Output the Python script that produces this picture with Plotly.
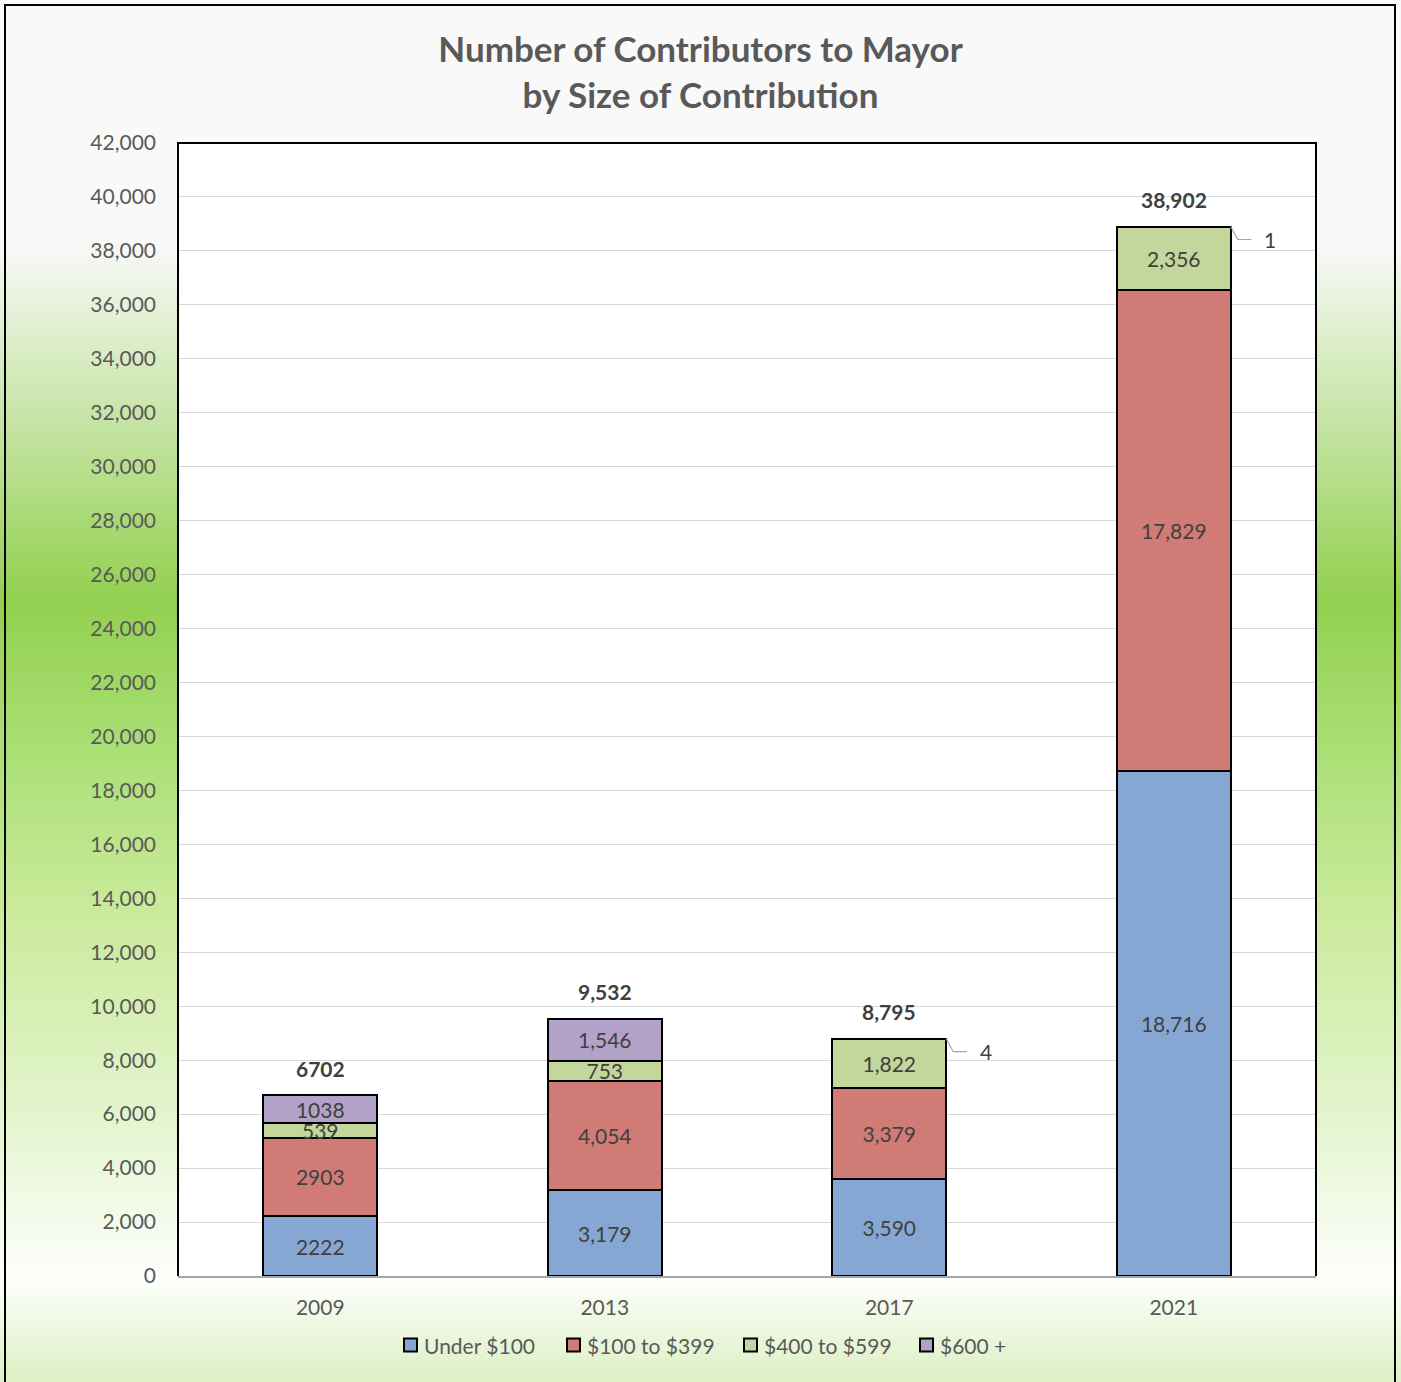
import base64
import plotly.graph_objects as go

# ---------------- data ----------------
years = ["2009", "2013", "2017", "2021"]
under_100 = [2222, 3179, 3590, 18716]
r100_399 = [2903, 4054, 3379, 17829]
r400_599 = [539, 753, 1822, 2356]
r600_plus = [1038, 1546, 4, 1]
totals = [6702, 9532, 8795, 38902]
use_comma = [False, True, True, True]
series_names = ["Under $100", "$100 to $399", "$400 to $599", "$600 +"]
series_colors = ["#86a7d3", "#d17b77", "#c3d69b", "#b2a2c8"]
y_max = 42000
y_step = 2000

# ---------------- layout geometry (pixels) ----------------
W, H = 1401, 1382
L, R, T, B = 178, 85, 143, 106
PW, PH = W - L - R, H - T - B


def px_x(p):
    return (p - L) / PW


def px_y(p):
    return (H - B - p) / PH


FONT = "Lato, 'Open Sans', sans-serif"
TXT = "#404040"
AX = "#595959"
FS = 21
BAR_W = 0.4
CALLOUT_MIN = 100
LEGEND_PX = [404, 567, 744, 920]   # left edges of legend swatches
LEGEND_Y = 1345


def fmt(v, comma):
    return f"{v:,}" if comma else str(v)


fig = go.Figure()
xs = list(range(len(years)))
all_series = [under_100, r100_399, r400_599, r600_plus]
for name, vals, col in zip(series_names, all_series, series_colors):
    texts = ["" if v < CALLOUT_MIN else fmt(v, c) for v, c in zip(vals, use_comma)]
    fig.add_trace(go.Bar(
        x=xs, y=vals, name=name, width=BAR_W, showlegend=False,
        marker=dict(color=col, line=dict(color="black", width=2)),
        text=texts, textposition="inside", insidetextanchor="middle",
        textangle=0, insidetextfont=dict(family=FONT, size=FS, color=TXT),
        hoverinfo="skip",
    ))

# totals
for i, t in enumerate(totals):
    fig.add_annotation(x=xs[i], y=t, text=f"<b>{fmt(t, use_comma[i])}</b>",
                       showarrow=False, yshift=27, yanchor="middle",
                       font=dict(family=FONT, size=FS, color=TXT))

# callouts for tiny top segments
for i, v in enumerate(r600_plus):
    if v < CALLOUT_MIN:
        t = totals[i]
        drop = 480
        fig.add_trace(go.Scatter(
            x=[xs[i] + BAR_W / 2, xs[i] + 0.225, xs[i] + 0.273],
            y=[t, t - drop, t - drop], mode="lines",
            line=dict(color="#a6a6a6", width=1.2), showlegend=False,
            hoverinfo="skip"))
        fig.add_annotation(x=xs[i] + 0.34, y=t - drop, text=fmt(v, use_comma[i]),
                           showarrow=False, yanchor="middle",
                           font=dict(family=FONT, size=FS, color=TXT))

# background gradient image
svg = (
    '<svg xmlns="http://www.w3.org/2000/svg" width="100" height="100" '
    'viewBox="0 0 1 1" preserveAspectRatio="none">'
    '<defs><linearGradient id="g" x1="0" y1="0" x2="0" y2="1">'
    '<stop offset="0" stop-color="#f9f9f9"/>'
    '<stop offset="0.175" stop-color="#f9f9f9"/>'
    '<stop offset="0.435" stop-color="#92d050"/>'
    '<stop offset="0.55" stop-color="#ace077"/>'
    '<stop offset="0.655" stop-color="#c9ea9a"/>'
    '<stop offset="0.8" stop-color="#e2f4cb"/>'
    '<stop offset="0.925" stop-color="#fdfefb"/>'
    '<stop offset="1" stop-color="#dcf0c3"/>'
    '</linearGradient></defs>'
    '<rect x="0" y="0" width="1" height="1" fill="url(#g)"/></svg>'
)
src = "data:image/svg+xml;base64," + base64.b64encode(svg.encode()).decode()
fig.add_layout_image(dict(source=src, xref="paper", yref="paper",
                          x=px_x(0), y=px_y(0), sizex=W / PW, sizey=H / PH,
                          xanchor="left", yanchor="top", sizing="stretch",
                          layer="below"))

shapes = [
    # white plot area
    dict(type="rect", xref="paper", yref="paper", x0=0, x1=1, y0=0, y1=1,
         fillcolor="white", line=dict(width=0), layer="below"),
    # black left/top/right frame
    dict(type="path", xref="paper", yref="paper",
         path="M 0,0 L 0,1 L 1,1 L 1,0", line=dict(color="black", width=2),
         layer="above"),
    # outer chart border
    dict(type="path", xref="paper", yref="paper",
         path=f"M {px_x(5)},{px_y(H + 5)} L {px_x(5)},{px_y(5)} "
              f"L {px_x(1395)},{px_y(5)} L {px_x(1395)},{px_y(H + 5)}",
         line=dict(color="black", width=2), layer="above"),
]

# custom legend (swatch + label)
SW = 13
for name, col, lx in zip(series_names, series_colors, LEGEND_PX):
    shapes.append(dict(type="rect", xref="paper", yref="paper",
                       x0=px_x(lx), x1=px_x(lx + SW),
                       y0=px_y(LEGEND_Y + SW / 2), y1=px_y(LEGEND_Y - SW / 2),
                       fillcolor=col, line=dict(color="black", width=2),
                       layer="above"))
    fig.add_annotation(xref="paper", yref="paper", x=px_x(lx + SW + 5),
                       y=px_y(LEGEND_Y), xanchor="left", yanchor="middle",
                       showarrow=False, text=name,
                       font=dict(family=FONT, size=FS, color=AX))

fig.update_layout(
    width=W, height=H, autosize=False,
    margin=dict(l=L, r=R, t=T, b=B),
    paper_bgcolor="white", plot_bgcolor="white",
    barmode="stack", shapes=shapes, showlegend=False,
    uniformtext=dict(minsize=FS, mode="show"),
    title=dict(text="<b>Number of Contributors to Mayor<br>by Size of Contribution</b>",
               x=0.5, xref="container", xanchor="center",
               y=1 - 62 / H, yref="container", yanchor="middle",
               font=dict(family=FONT, size=35, color=AX)),
    font=dict(family=FONT, color=AX, size=FS),
)
fig.update_xaxes(range=[-0.5, len(years) - 0.5], tickvals=xs, ticktext=years,
                 showgrid=False, zeroline=False, showline=True,
                 linecolor="#a6a6a6", linewidth=2, ticks="",
                 ticklabelstandoff=12,
                 tickfont=dict(family=FONT, size=FS, color=AX))
fig.update_yaxes(range=[0, y_max], dtick=y_step, tick0=0, tickformat=",",
                 showgrid=True, gridcolor="#d9d9d9", gridwidth=1,
                 zeroline=False, showline=False, ticks="",
                 ticklabelstandoff=21,
                 tickfont=dict(family=FONT, size=FS, color=AX))

fig.write_html("out.html", config={"displayModeBar": False},
               post_script="document.body.style.margin='0';document.body.style.overflow='hidden';")
